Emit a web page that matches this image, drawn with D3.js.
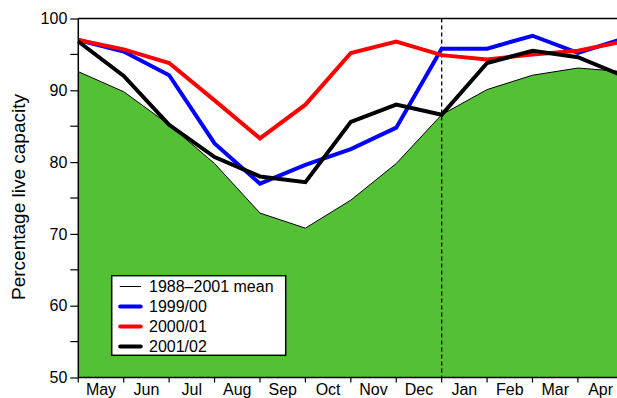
<!DOCTYPE html>
<html>
<head>
<meta charset="utf-8">
<script src="https://cdn.jsdelivr.net/npm/d3@7"></script>
<style>
  html, body { margin: 0; padding: 0; background: #fff; }
  svg { display: block; font-family: "Liberation Sans", Arial, Helvetica, sans-serif; }
</style>
</head>
<body>
<svg id="chart" width="617" height="398"></svg>
<script>
// Reservoir storage, percentage of live capacity, May to the following May
const months = ["May", "Jun", "Jul", "Aug", "Sep", "Oct", "Nov", "Dec", "Jan", "Feb", "Mar", "Apr", "May"];
const meanValues = [92.6, 89.8, 85.2, 79.8, 72.9, 70.8, 74.7, 79.8, 86.6, 90.1, 92.1, 93.1, 92.6];
const season9900 = [97.0, 95.4, 92.1, 82.6, 77.0, 79.6, 81.8, 84.8, 95.8, 95.8, 97.6, 95.2, 97.2];
const season0001 = [97.0, 95.7, 93.8, 88.6, 83.3, 88.0, 95.2, 96.8, 94.9, 94.3, 95.0, 95.5, 96.8];
const season0102 = [96.8, 92.0, 85.2, 80.7, 78.0, 77.2, 85.6, 88.0, 86.6, 93.8, 95.5, 94.6, 92.0];
const yTicks = [50, 60, 70, 80, 90, 100];
const yMinorTicks = [55, 65, 75, 85, 95];
const yearBreak = "Jan";

const series = [
  { name: "1999/00", values: season9900, color: "#0000ff" },
  { name: "2000/01", values: season0001, color: "#ff0000" },
  { name: "2001/02", values: season0102, color: "#000000" }
];

const svg = d3.select("#chart");
const plotLeft = 78.3, plotTop = 18.5, plotBottom = 377.5, step = 45.42;

const x = d3.scaleLinear().domain([0, months.length - 1]).range([plotLeft, plotLeft + step * (months.length - 1)]);
const y = d3.scaleLinear().domain([50, 100]).range([plotBottom, plotTop]);

// Mean storage as a filled area
const area = d3.area().x((d, i) => x(i)).y0(y(50)).y1(d => y(d));
const meanLine = d3.line().x((d, i) => x(i)).y(d => y(d));

svg.append("path").datum(meanValues)
  .attr("d", area).attr("fill", "#54c036");
svg.append("path").datum(meanValues)
  .attr("d", meanLine).attr("fill", "none").attr("stroke", "#000").attr("stroke-width", 1);

// Calendar year boundary
const jan = months.indexOf(yearBreak);
svg.append("line")
  .attr("x1", x(jan)).attr("x2", x(jan)).attr("y1", y(100)).attr("y2", y(50))
  .attr("stroke", "#000").attr("stroke-width", 1.3).attr("stroke-dasharray", "4,3");

// Season lines
const line = d3.line().x((d, i) => x(i)).y(d => y(d));
series.forEach(s => {
  svg.append("path").datum(s.values)
    .attr("d", line).attr("fill", "none")
    .attr("stroke", s.color).attr("stroke-width", 4)
    .attr("stroke-linejoin", "miter");
});

// Frame: top border
svg.append("line")
  .attr("x1", plotLeft).attr("x2", 617).attr("y1", y(100)).attr("y2", y(100))
  .attr("stroke", "#000").attr("stroke-width", 1.5);

// Y axis
const yAxis = d3.axisLeft(y).tickValues(yTicks).tickSize(8).tickPadding(3).tickFormat(d3.format("d"));
const gy = svg.append("g").attr("transform", `translate(${plotLeft},0)`).call(yAxis);
gy.select(".domain").attr("stroke-width", 1.5).attr("d", `M-0,${plotTop}V${plotBottom}`);
gy.selectAll(".tick line").attr("stroke-width", 1.2);
gy.selectAll(".tick text").attr("font-size", 16).attr("fill", "#000")
  .attr("font-family", "'Liberation Sans', Arial, sans-serif");
svg.append("g").selectAll("line").data(yMinorTicks).join("line")
  .attr("x1", plotLeft - 8).attr("x2", plotLeft).attr("y1", d => y(d)).attr("y2", d => y(d))
  .attr("stroke", "#000").attr("stroke-width", 1.2);

// X axis: ticks at month points, labels centred between them (one per month of the season)
const seasonMonths = months.slice(0, -1);
const gx = svg.append("g");
gx.append("line")
  .attr("x1", plotLeft).attr("x2", 617).attr("y1", plotBottom).attr("y2", plotBottom)
  .attr("stroke", "#000").attr("stroke-width", 1.5);
gx.selectAll("line.tick").data(seasonMonths).join("line").attr("class", "tick")
  .attr("x1", (d, i) => x(i)).attr("x2", (d, i) => x(i))
  .attr("y1", plotBottom).attr("y2", plotBottom + 5)
  .attr("stroke", "#000").attr("stroke-width", 1.2);
gx.selectAll("text").data(seasonMonths).join("text")
  .attr("x", (d, i) => x(i + 0.5)).attr("y", 395)
  .attr("text-anchor", "middle").attr("font-size", 16).attr("fill", "#000")
  .text(d => d);

// Y axis title
svg.append("text")
  .attr("transform", "translate(25,197) rotate(-90)")
  .attr("text-anchor", "middle").attr("font-size", 19).attr("fill", "#000")
  .text("Percentage live capacity");

// Legend
const lg = svg.append("g").attr("transform", "translate(111.7,275.7)");
lg.append("rect").attr("width", 174).attr("height", 79.6)
  .attr("fill", "#fff").attr("stroke", "#000").attr("stroke-width", 1.5);
const legendItems = [{ name: "1988\u20132001 mean", color: "#000", width: 1 }]
  .concat(series.map(s => ({ name: s.name, color: s.color, width: 4 })));
const rows = lg.selectAll("g.row").data(legendItems).join("g").attr("class", "row")
  .attr("transform", (d, i) => `translate(0,${10.8 + i * 20})`);
rows.append("line").attr("x1", 8.5).attr("x2", 29)
  .attr("stroke", d => d.color).attr("stroke-width", d => d.width).attr("stroke-linecap", "round");
rows.append("text").attr("x", 37.3).attr("y", 5.1)
  .attr("font-size", 16).attr("fill", "#000").text(d => d.name);
</script>
</body>
</html>
